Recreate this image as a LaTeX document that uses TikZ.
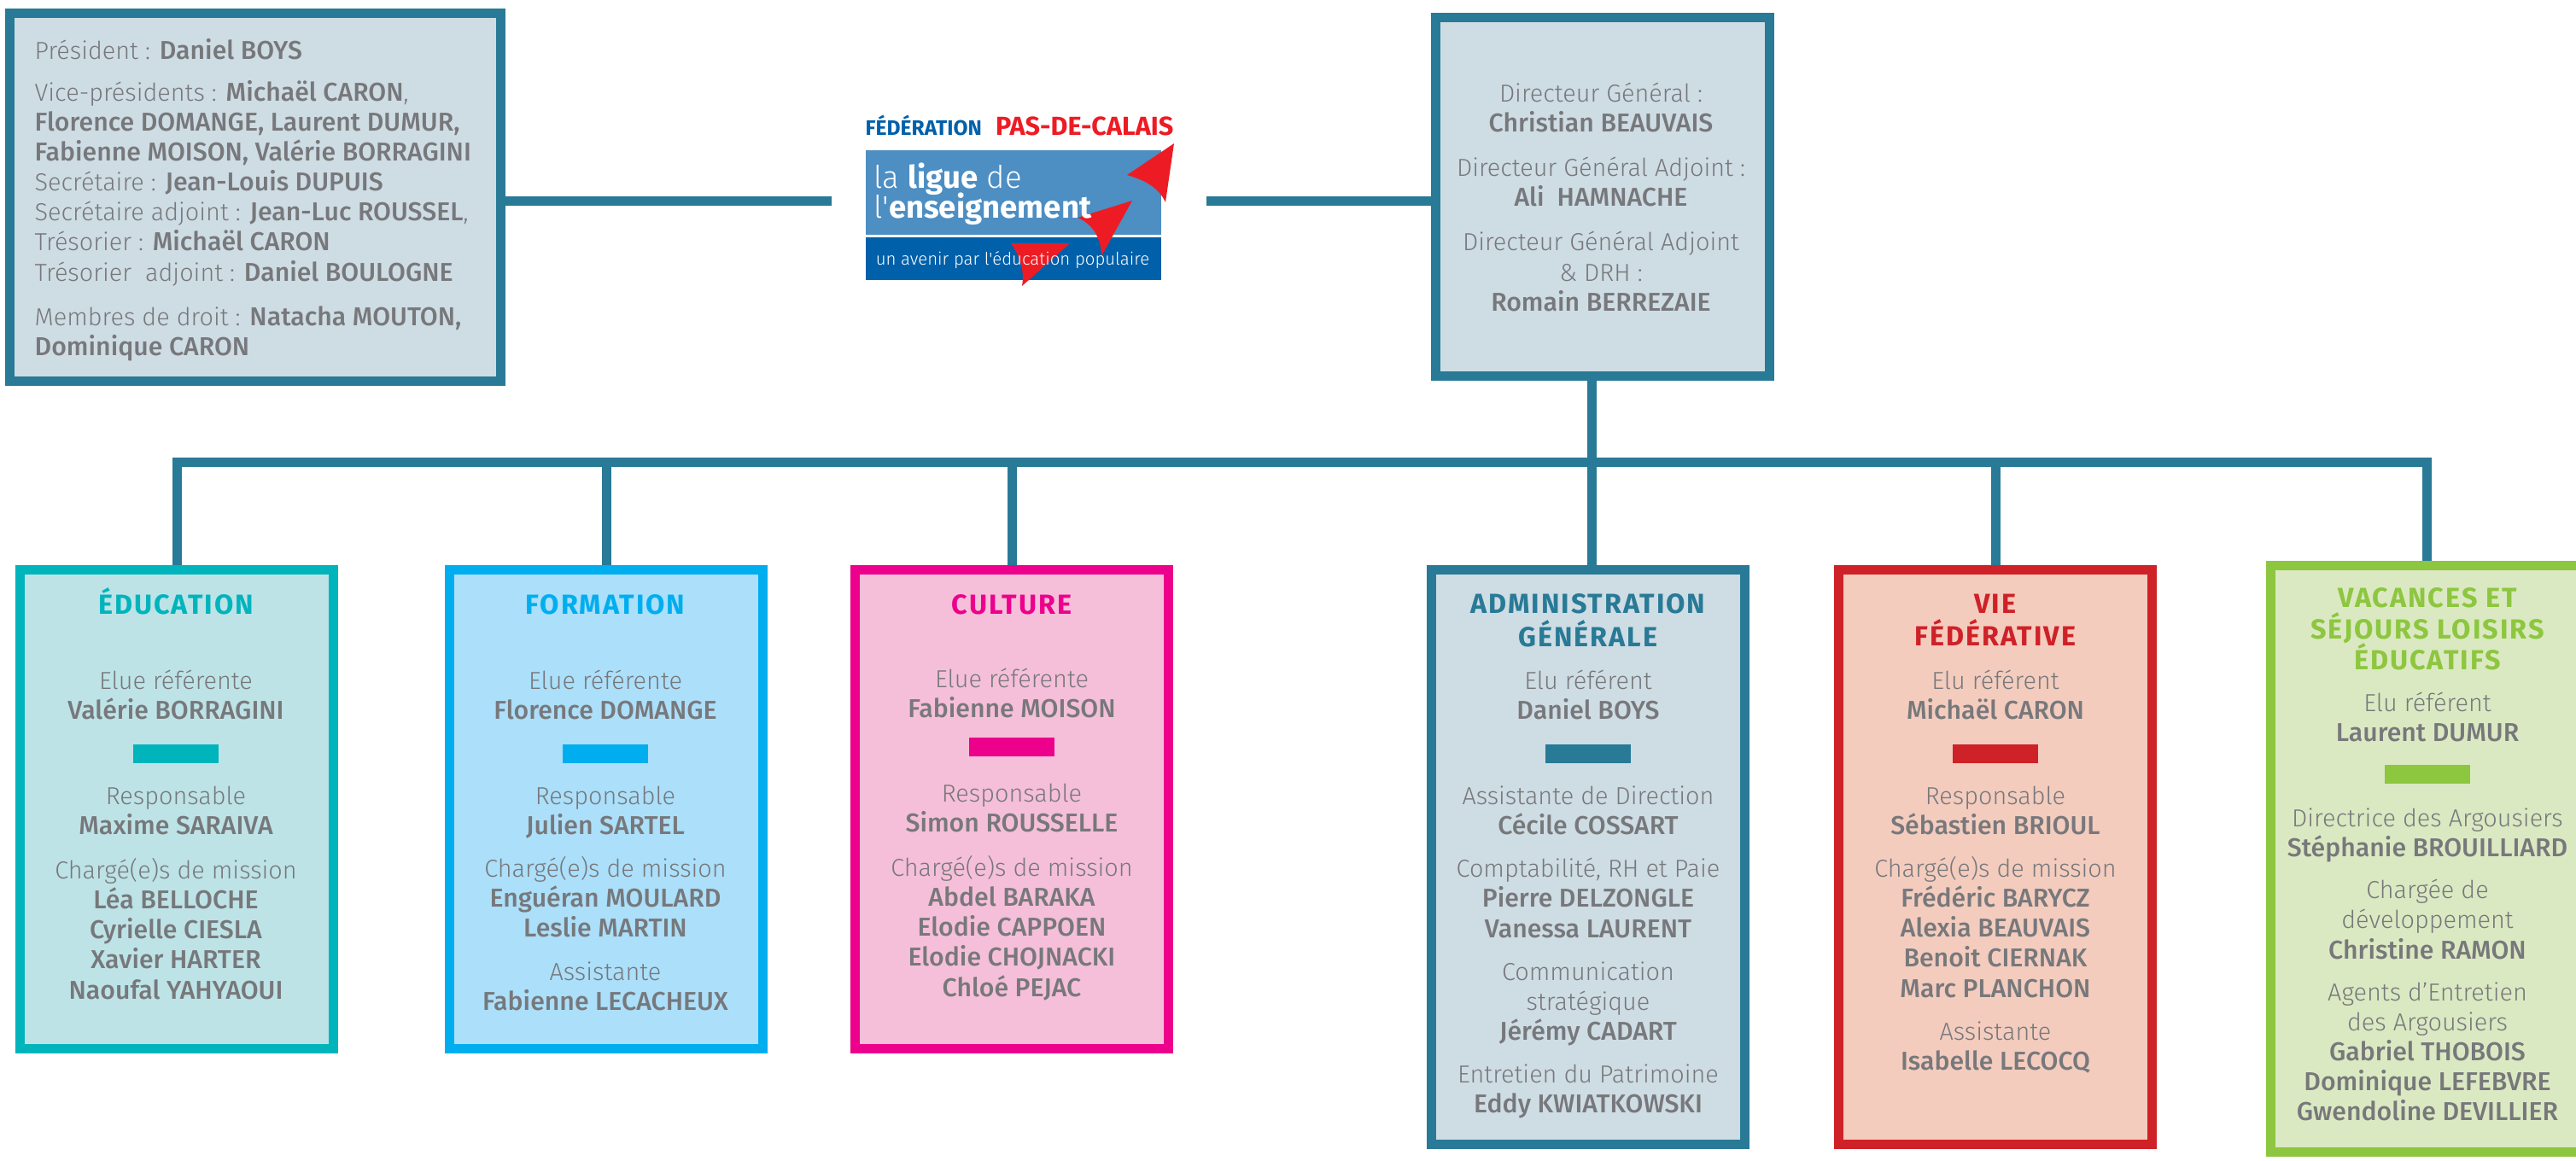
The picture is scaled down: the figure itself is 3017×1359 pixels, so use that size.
\documentclass[tikz,border=0pt]{standalone}
\usepackage{fontspec}
\setmainfont{Fira Sans}
\newfontfamily\lightfont{Fira Sans Light}
\newfontfamily\mediumfont{Fira Sans Medium}
\newfontfamily\heavyfont{Fira Sans Bold}
\newfontfamily\headfont{Fira Sans Bold}[LetterSpace=6]
\definecolor{admincol}{HTML}{287A96}
\definecolor{adminbg}{HTML}{CEDCE4}
\definecolor{educol}{HTML}{00B4BC}
\definecolor{edubg}{HTML}{BDE3E7}
\definecolor{formcol}{HTML}{00AEEF}
\definecolor{formbg}{HTML}{ABDFFA}
\definecolor{cultcol}{HTML}{EC008C}
\definecolor{cultbg}{HTML}{F5BFD9}
\definecolor{viecol}{HTML}{CF2128}
\definecolor{viebg}{HTML}{F3CCBE}
\definecolor{vaccol}{HTML}{8DC63F}
\definecolor{vacbg}{HTML}{DBE9C2}
\definecolor{textgrey}{HTML}{77787B}
\definecolor{logolight}{HTML}{4D8EC3}
\definecolor{logodark}{HTML}{0060AA}
\definecolor{logored}{HTML}{ED1C24}
\newcommand{\nm}[1]{{\mediumfont\fontsize{8.6}{10}\selectfont #1}}
\begin{document}
\begin{tikzpicture}[
            x=0.01cm,y=-0.01cm,
            panel/.style 2 args={draw=#1,fill=#2,line width=0.11cm,rectangle,inner sep=0pt,anchor=north west},
            link/.style={draw=admincol,line width=0.11cm},
            body/.style={text=textgrey,align=center,anchor=north,inner sep=0pt,font=\lightfont\fontsize{8.2}{10}\selectfont},
            head/.style={anchor=north,align=center,inner sep=0pt,execute at begin node={\vphantom{É}},font=\headfont\fontsize{9.2}{10.9}\selectfont},
            bar/.style={fill=#1,inner sep=0pt,minimum width=0.99cm,minimum height=0.22cm},
            logotext/.style={inner sep=0pt},
            ]
            \useasboundingbox (0,0) rectangle (3017,1359);

            % top boxes
            \node[panel={admincol}{adminbg},minimum width=5.75cm,minimum height=4.31cm] (bureau) at (6,10) {};
            \node[panel={admincol}{adminbg},minimum width=3.91cm,minimum height=4.20cm] (direction) at (1676,15) {};

            % lower boxes
            \node[panel={educol}{edubg},minimum width=3.67cm,minimum height=5.61cm] (edu) at (18,662) {};
            \node[panel={formcol}{formbg},minimum width=3.67cm,minimum height=5.61cm] (form) at (521,662) {};
            \node[panel={cultcol}{cultbg},minimum width=3.67cm,minimum height=5.61cm] (cult) at (996,662) {};
            \node[panel={admincol}{adminbg},minimum width=3.67cm,minimum height=6.73cm] (admin) at (1671,662) {};
            \node[panel={viecol}{viebg},minimum width=3.67cm,minimum height=6.73cm] (vie) at (2148,662) {};
            \node[panel={vaccol}{vacbg},minimum width=3.65cm,minimum height=6.87cm] (vac) at (2654,657) {};

            % logo
            \node[fill=logolight,inner sep=0pt,minimum width=3.46cm,minimum height=0.99cm,anchor=north west] (ligue) at (1013,175) {};
            \node[fill=logodark,inner sep=0pt,minimum width=3.46cm,minimum height=0.5cm,anchor=north west] (avenir) at (1013,277) {};
            \fill[logored] (1375,168) -- (1320,205) .. controls (1345,212) and (1358,222) .. (1365,237) -- cycle;
            \fill[logored] (1326,235) -- (1262,255) .. controls (1280,262) and (1290,280) .. (1290,300) -- cycle;
            \fill[logored] (1253,285) -- (1184,285) .. controls (1195,300) and (1200,318) .. (1197,335) -- cycle;
            \node[logotext,anchor=base west,text=logodark,font=\heavyfont\fontsize{7}{8}\selectfont] (fede) at (1013,158) {FÉDÉRATION};
            \node[logotext,anchor=base east,text=logored,font=\heavyfont\fontsize{8.7}{8}\selectfont] (pas) at (1375,158) {PAS-DE-CALAIS};
            \node[logotext,anchor=base west,text=white,font=\lightfont\fontsize{10.4}{11}\selectfont] (la) at (1023,220) {la {\heavyfont ligue} de};
            \node[logotext,anchor=base west,text=white,font=\lightfont\fontsize{10.4}{11}\selectfont] (ens) at (1023,255) {l'{\heavyfont enseignement}};
            \node[logotext,anchor=center,text=white,font=\lightfont\fontsize{5.8}{7}\selectfont] (slogan) at (1186,305) {un avenir par l'éducation populaire};

            % connectors
            \coordinate (trunk) at (1864,541);
            \coordinate (logoL) at (974,235);
            \coordinate (logoR) at (1413,235);
            \draw[link] (bureau.east |- logoL) -- (logoL);
            \draw[link] (logoR) -- (direction.west |- logoR);
            \draw[link] (edu.north) -- (edu.north |- trunk) -- (vac.north |- trunk) -- (vac.north);
            \draw[link] (direction.south -| trunk) -- (trunk |- admin.north);
            \draw[link] (form.north) -- (form.north |- trunk);
            \draw[link] (cult.north) -- (cult.north |- trunk);
            \draw[link] (vie.north) -- (vie.north |- trunk);

            % top text
            \node[body,align=left,anchor=north west] (bureautxt) at (40,45) {Président : \nm{Daniel BOYS}\\[0.13cm]
            Vice-présidents : \nm{Michaël CARON},\\ \nm{Florence DOMANGE, Laurent DUMUR,}\\ \nm{Fabienne MOISON, Valérie BORRAGINI}\\
            Secrétaire : \nm{Jean-Louis DUPUIS}\\ Secrétaire adjoint : \nm{Jean-Luc ROUSSEL},\\
            Trésorier : \nm{Michaël CARON}\\ Trésorier\ \ adjoint : \nm{Daniel BOULOGNE}\\[0.17cm]
            Membres de droit : \nm{Natacha MOUTON,}\\ \nm{Dominique CARON}};
            \node[body] (directiontxt) at (1875,96) {Directeur Général :\\ \nm{Christian BEAUVAIS}\\[0.17cm]
            Directeur Général Adjoint :\\ \nm{Ali\ \ HAMNACHE}\\[0.17cm]
            Directeur Général Adjoint\\ \& DRH :\\ \nm{Romain BERREZAIE}};

            % education
            \node[head,text=educol] (eduhead) at (206,688) {ÉDUCATION};
            \node[body] (edutxt) at (206,784) {Elue référente\\ \nm{Valérie BORRAGINI}};
            \node[bar=educol] (edubar) at (206,883) {};
            \node[body] (edutxtb) at (206,920) {Responsable\\ \nm{Maxime SARAIVA}\\[0.17cm]
            Chargé(e)s de mission\\ \nm{Léa BELLOCHE}\\ \nm{Cyrielle CIESLA}\\ \nm{Xavier HARTER}\\ \nm{Naoufal YAHYAOUI}};

            % formation
            \node[head,text=formcol] (formhead) at (709,688) {FORMATION};
            \node[body] (formtxt) at (709,784) {Elue référente\\ \nm{Florence DOMANGE}};
            \node[bar=formcol] (formbar) at (709,883) {};
            \node[body] (formtxtb) at (709,920) {Responsable\\ \nm{Julien SARTEL}\\[0.15cm]
            Chargé(e)s de mission\\ \nm{Enguéran MOULARD}\\ \nm{Leslie MARTIN}\\[0.15cm]
            Assistante\\ \nm{Fabienne LECACHEUX}};

            % culture
            \node[head,text=cultcol] (culthead) at (1185,688) {CULTURE};
            \node[body] (culttxt) at (1185,782) {Elue référente\\ \nm{Fabienne MOISON}};
            \node[bar=cultcol] (cultbar) at (1185,875) {};
            \node[body] (culttxtb) at (1185,917) {Responsable\\ \nm{Simon ROUSSELLE}\\[0.17cm]
            Chargé(e)s de mission\\ \nm{Abdel BARAKA}\\ \nm{Elodie CAPPOEN}\\ \nm{Elodie CHOJNACKI}\\ \nm{Chloé PEJAC}};

            % administration
            \node[head,text=admincol] (adminhead) at (1860,695) {ADMINISTRATION\\ GÉNÉRALE};
            \node[body] (admintxt) at (1860,784) {Elu référent\\ \nm{Daniel BOYS}};
            \node[bar=admincol] (adminbar) at (1860,883) {};
            \node[body] (admintxtb) at (1860,920) {Assistante de Direction\\ \nm{Cécile COSSART}\\[0.15cm]
            Comptabilité, RH et Paie\\ \nm{Pierre DELZONGLE}\\ \nm{Vanessa LAURENT}\\[0.15cm]
            Communication\\ stratégique\\ \nm{Jérémy CADART}\\[0.15cm]
            Entretien du Patrimoine\\ \nm{Eddy KWIATKOWSKI}};

            % vie federative
            \node[head,text=viecol] (viehead) at (2337,695) {VIE\\ FÉDÉRATIVE};
            \node[body] (vietxt) at (2337,784) {Elu référent\\ \nm{Michaël CARON}};
            \node[bar=viecol] (viebar) at (2337,883) {};
            \node[body] (vietxtb) at (2337,920) {Responsable\\ \nm{Sébastien BRIOUL}\\[0.15cm]
            Chargé(e)s de mission\\ \nm{Frédéric BARYCZ}\\ \nm{Alexia BEAUVAIS}\\ \nm{Benoit CIERNAK}\\ \nm{Marc PLANCHON}\\[0.15cm]
            Assistante\\ \nm{Isabelle LECOCQ}};

            % vacances
            \node[head,text=vaccol] (vachead) at (2843,688) {VACANCES ET\\[-0.02cm] SÉJOURS LOISIRS\\[-0.02cm] ÉDUCATIFS};
            \node[body] (vactxt) at (2843,810) {Elu référent\\ \nm{Laurent DUMUR}};
            \node[bar=vaccol] (vacbar) at (2843,907) {};
            \node[body] (vactxtb) at (2843,946) {Directrice des Argousiers\\ \nm{Stéphanie BROUILLIARD}\\[0.14cm]
            Chargée de\\ développement\\ \nm{Christine RAMON}\\[0.14cm]
            Agents d’Entretien\\ des Argousiers\\ \nm{Gabriel THOBOIS}\\ \nm{Dominique LEFEBVRE}\\ \nm{Gwendoline DEVILLIER}};
        \end{tikzpicture}
\end{document}
